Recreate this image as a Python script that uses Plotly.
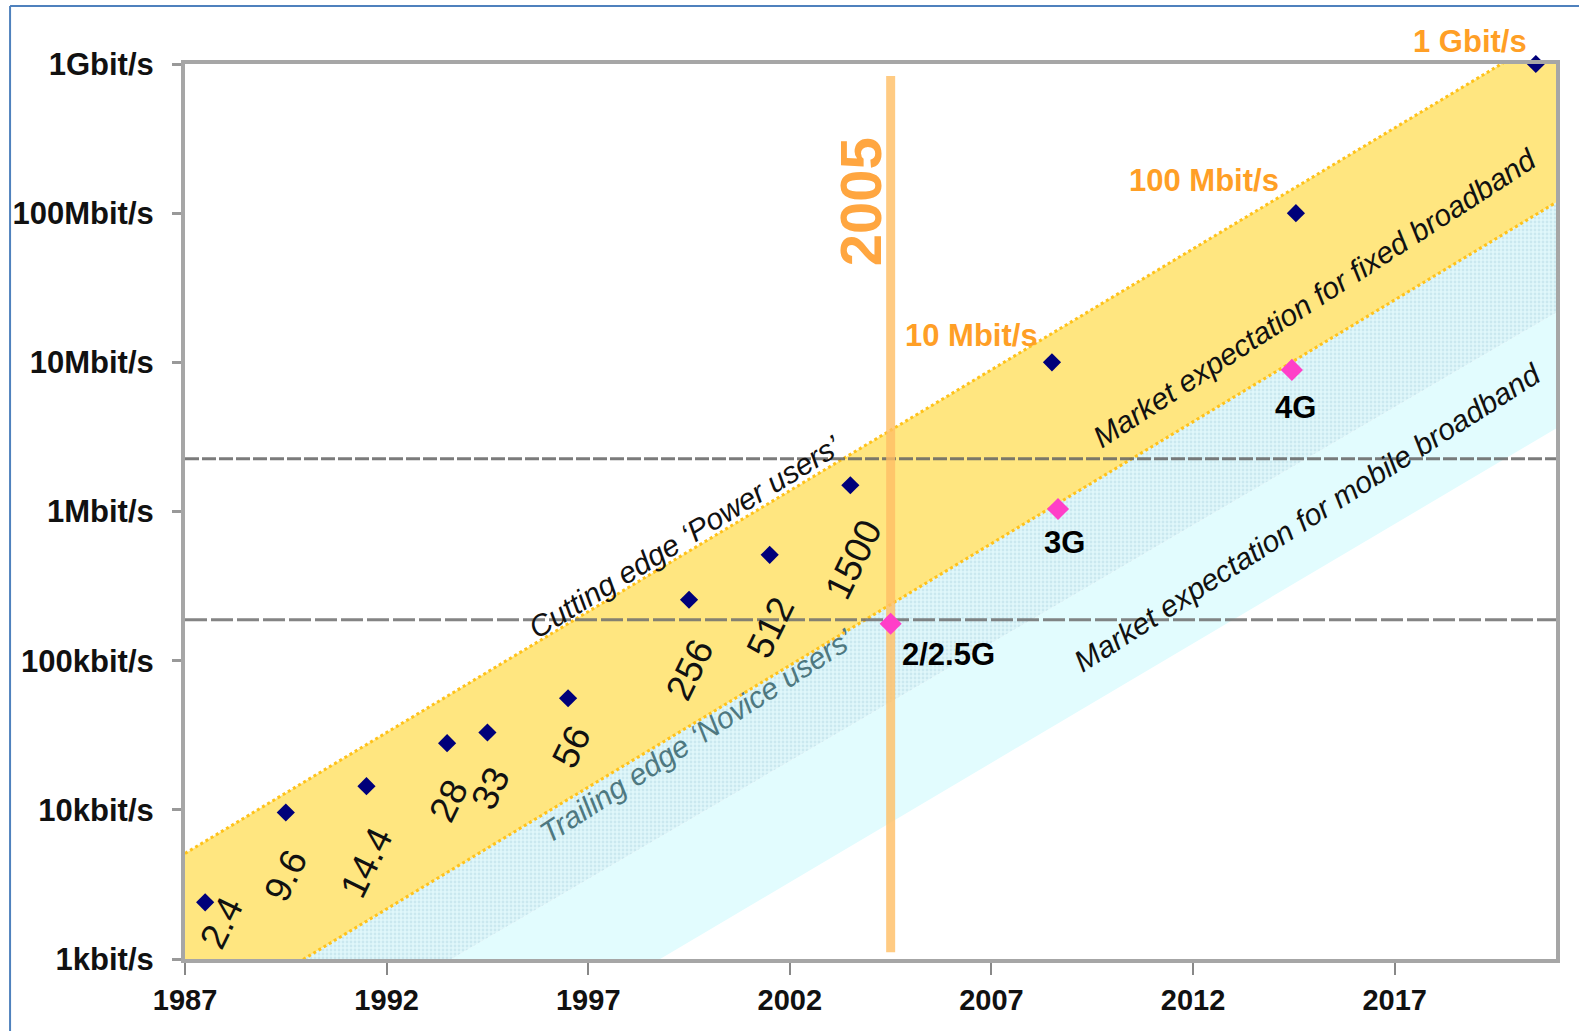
import math
import plotly.graph_objects as go

# ---------------- data ----------------
fixed_years = [1987.5, 1989.5, 1991.5, 1993.5, 1994.5, 1996.5, 1999.5, 2001.5, 2003.5, 2008.5, 2014.55, 2020.5]
fixed_kbps = [2.4, 9.6, 14.4, 28, 33, 56, 256, 512, 1500, 10000, 100000, 1000000]
fixed_labels = ["2.4", "9.6", "14.4", "28", "33", "56", "256", "512", "1500",
                "10 Mbit/s", "100 Mbit/s", "1 Gbit/s"]

mobile_years = [2004.5, 2008.65, 2014.45]
mobile_kbps = [177, 1040, 8900]
mobile_labels = ["2/2.5G", "3G", "4G"]

band_years = [1987, 2021]
fixed_upper = [5.1, 1.66e6]
fixed_lower = [0.33, 1.18e5]
mobile_mid = [0.09, 2.15e4]
mobile_lower = [0.013, 3.6e3]

power_user_kbps = 2260
novice_kbps = 188
marker_year = 2004.5
marker_span = [1.11, 830000]

x_ticks = [1987, 1992, 1997, 2002, 2007, 2012, 2017]
y_ticks = [1, 10, 100, 1000, 10000, 100000, 1000000]
y_ticktext = ["1kbit/s", "10kbit/s", "100kbit/s", "1Mbit/s", "10Mbit/s", "100Mbit/s", "1Gbit/s"]

# label offsets (pixels) relative to their points
num_offsets = [(16, -21), (0, -63), (0, -76), (1, -58), (3, -56), (3, -49), (1, -70), (1, -73), (3, -74)]
big_offsets = [(-80, 27), (-92, 33), (-66, 23)]
mob_offsets = [(58, -31), (6, -34), (4, -38)]

FONT = "Liberation Sans, Arial, sans-serif"
ORANGE = "#FF9F26"
L = math.log10

fig = go.Figure()

# bands
fig.add_trace(go.Scatter(x=band_years, y=mobile_lower, mode="lines",
                         line=dict(width=0, color="rgba(0,0,0,0)"), hoverinfo="skip", showlegend=False))
fig.add_trace(go.Scatter(x=band_years, y=mobile_mid, mode="lines", fill="tonexty",
                         fillcolor="#E2FCFE", line=dict(width=0, color="rgba(0,0,0,0)"),
                         hoverinfo="skip", showlegend=False))
fig.add_trace(go.Scatter(x=band_years, y=fixed_lower, mode="lines", fill="tonexty",
                         fillcolor="#DDF5F8",
                         fillpattern=dict(shape=".", fgcolor="#B3D9E3", bgcolor="#E0F7FA", size=4, solidity=0.4),
                         line=dict(width=3, color="#FFC21A", dash="dot"),
                         hoverinfo="skip", showlegend=False))
fig.add_trace(go.Scatter(x=band_years, y=fixed_upper, mode="lines", fill="tonexty",
                         fillcolor="#FFE680", line=dict(width=3, color="#FFC21A", dash="dot"),
                         hoverinfo="skip", showlegend=False))

# threshold lines
fig.add_trace(go.Scatter(x=band_years, y=[power_user_kbps, power_user_kbps], mode="lines",
                         line=dict(width=3, color="rgba(100,100,100,0.85)", dash="14px,3px"),
                         hoverinfo="skip", showlegend=False))
fig.add_trace(go.Scatter(x=band_years, y=[novice_kbps, novice_kbps], mode="lines",
                         line=dict(width=3, color="rgba(110,110,110,0.85)", dash="22px,4px"),
                         hoverinfo="skip", showlegend=False))

# 2005 marker line
fig.add_trace(go.Scatter(x=[marker_year, marker_year], y=marker_span, mode="lines",
                         line=dict(width=9, color="rgba(255,190,100,0.8)"),
                         hoverinfo="skip", showlegend=False))

# points
fig.add_trace(go.Scatter(x=fixed_years, y=fixed_kbps, mode="markers",
                         marker=dict(symbol="diamond", size=14, color="#00007A"),
                         cliponaxis=False, showlegend=False))
fig.add_trace(go.Scatter(x=mobile_years, y=mobile_kbps, mode="markers",
                         marker=dict(symbol="diamond", size=17, color="#FF3FC8"),
                         showlegend=False))

ann = []
for i in range(9):
    dx, dy = num_offsets[i]
    ann.append(dict(x=fixed_years[i], y=L(fixed_kbps[i]), text=fixed_labels[i],
                    showarrow=False, xshift=dx, yshift=dy, textangle=-64,
                    font=dict(family=FONT, size=37, color="#111111")))
for j, i in enumerate(range(9, 12)):
    dx, dy = big_offsets[j]
    ann.append(dict(x=fixed_years[i], y=L(fixed_kbps[i]), text=fixed_labels[i],
                    showarrow=False, xshift=dx, yshift=dy,
                    font=dict(family=FONT, size=31, color=ORANGE, weight="bold")))
for i in range(3):
    dx, dy = mob_offsets[i]
    ann.append(dict(x=mobile_years[i], y=L(mobile_kbps[i]), text=mobile_labels[i],
                    showarrow=False, xshift=dx, yshift=dy,
                    font=dict(family=FONT, size=31, color="#000000", weight="bold")))

ann.append(dict(x=2003.75, y=L(1.19e5), text="2005", showarrow=False, textangle=-90,
                font=dict(family=FONT, size=58, color="#FFA640", weight="bold")))

ann.append(dict(x=1999.4, y=L(682), text="Cutting edge ‘Power users’", showarrow=False, textangle=-31.5,
                font=dict(family=FONT, size=30, color="#111111", style="italic")))
ann.append(dict(x=1999.7, y=L(31.5), text="Trailing edge ‘Novice users’", showarrow=False, textangle=-33,
                font=dict(family=FONT, size=30, color="#4E7880", style="italic")))
ann.append(dict(x=2015.03, y=L(27100), text="Market expectation for fixed broadband", showarrow=False,
                textangle=-33, font=dict(family=FONT, size=30, color="#111111", style="italic")))
ann.append(dict(x=2014.83, y=L(916), text="Market expectation for mobile broadband", showarrow=False,
                textangle=-32.5, font=dict(family=FONT, size=30, color="#111111", style="italic")))

fig.update_layout(
    width=1579, height=1031,
    margin=dict(l=185, r=23, t=64, b=72, autoexpand=False),
    paper_bgcolor="white", plot_bgcolor="white",
    annotations=ann,
    shapes=[
        dict(type="line", xref="paper", yref="paper", x0=-0.1276, x1=-0.1276, y0=-0.2, y1=1.0648,
             line=dict(color="#4F81BD", width=2)),
        dict(type="line", xref="paper", yref="paper", x0=-0.1276, x1=1.05, y0=1.0648, y1=1.0648,
             line=dict(color="#4F81BD", width=2)),
    ],
)
fig.update_xaxes(range=[1987, 2021.0], tickvals=x_ticks, ticks="outside", ticklen=12, tickwidth=2,
                 tickcolor="#888888", showgrid=False, zeroline=False, showline=True,
                 linecolor="#A6A6A6", linewidth=4, mirror=True, automargin=False,
                 tickfont=dict(family=FONT, size=29, color="#111111", weight="bold"))
fig.update_yaxes(type="log", range=[0, 6], tickvals=y_ticks, ticktext=y_ticktext, ticks="outside",
                 ticklen=9, tickwidth=3, tickcolor="#999999", showgrid=False, zeroline=False,
                 showline=True, linecolor="#A6A6A6", linewidth=4, mirror=True, ticklabelstandoff=12,
                 automargin=False,
                 tickfont=dict(family=FONT, size=31, color="#111111", weight="bold"))

fig.write_html(
    "out.html",
    config={"displayModeBar": False},
    post_script=("document.body.style.margin='0px';"
                 "document.body.style.overflow='hidden';"
                 "document.documentElement.style.overflow='hidden';"),
)
